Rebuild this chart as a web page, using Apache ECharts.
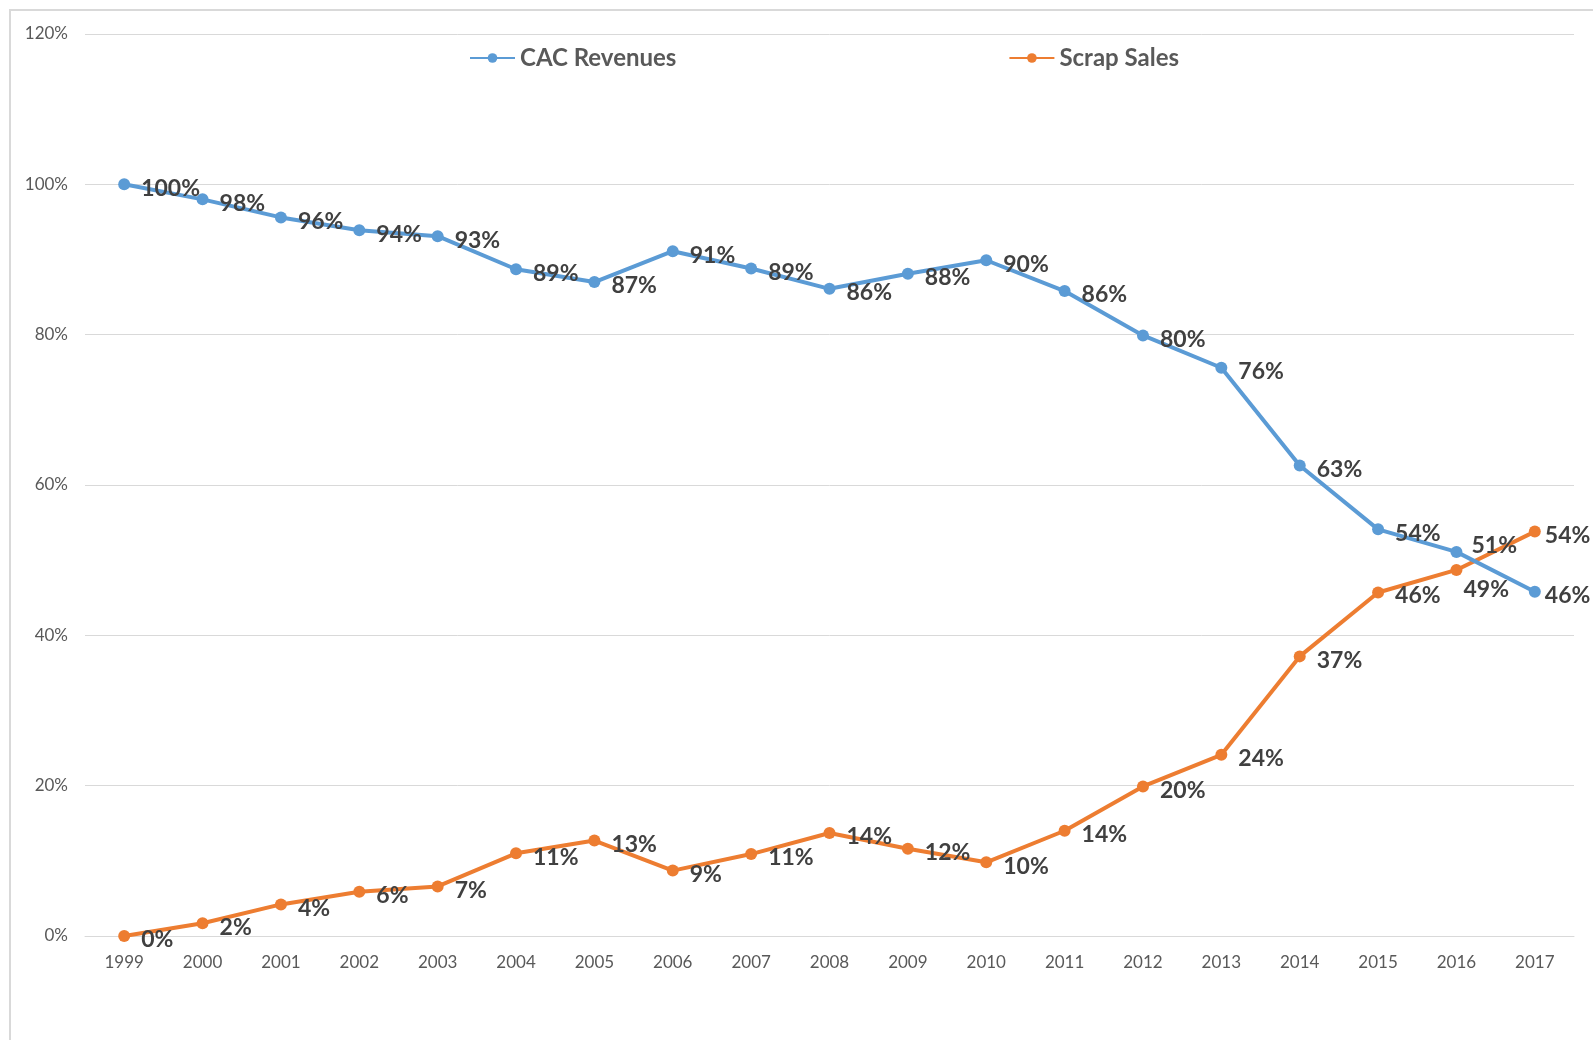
<!DOCTYPE html>
<html>
<head>
<meta charset="utf-8">
<script src="https://cdn.jsdelivr.net/npm/echarts@6/dist/echarts.min.js"></script>
<style>
html,body{margin:0;padding:0;background:#fff;}
#chart{width:1593px;height:1040px;}
</style>
</head>
<body>
<div id="chart"></div>
<script>
const years = ['1999','2000','2001','2002','2003','2004','2005','2006','2007','2008','2009','2010','2011','2012','2013','2014','2015','2016','2017'];
const cacRevenues = [100, 98.0, 95.6, 93.9, 93.1, 88.7, 87.0, 91.1, 88.8, 86.1, 88.1, 89.9, 85.8, 79.9, 75.6, 62.6, 54.1, 51.1, 45.8];
const scrapSales = [0, 1.7, 4.2, 5.9, 6.6, 11.0, 12.7, 8.7, 10.9, 13.7, 11.6, 9.8, 14.0, 19.9, 24.1, 37.2, 45.7, 48.7, 53.8];
const yTicks = [0, 20, 40, 60, 80, 100, 120];

const FONT = 'Lato, "Open Sans", sans-serif';
const chart = echarts.init(document.getElementById('chart'));

function buildData(values, overrides) {
  return values.map((v, i) => overrides[i] ? { value: v, label: overrides[i] } : v);
}

const labelStyle = {
  show: true,
  position: 'right',
  distance: 11,
  offset: [0, 4],
  color: '#404040',
  fontFamily: FONT,
  fontWeight: 'bold',
  fontSize: 23,
  formatter: p => Math.round(p.value) + '%'
};

chart.setOption({
  animation: false,
  backgroundColor: '#fff',
  graphic: [{
    type: 'rect',
    shape: { x: 10, y: 10, width: 1620, height: 1060 },
    style: { fill: 'none', stroke: '#d9d9d9', lineWidth: 2 },
    silent: true,
    z: -1
  }],
  legend: {
    top: 41,
    left: 464,
    itemWidth: 45,
    itemHeight: 12,
    itemGap: 332,
    textStyle: { color: '#595959', fontFamily: FONT, fontSize: 24, fontWeight: 'bold' },
    data: ['CAC Revenues', 'Scrap Sales']
  },
  grid: { left: 85, right: 19, top: 34, bottom: 104, containLabel: false },
  xAxis: {
    type: 'category',
    data: years,
    boundaryGap: true,
    axisLine: { lineStyle: { color: '#d9d9d9', width: 1 } },
    axisTick: { show: false },
    axisLabel: { color: '#595959', fontFamily: FONT, fontSize: 17, margin: 18 }
  },
  yAxis: {
    type: 'value',
    min: yTicks[0],
    max: yTicks[yTicks.length - 1],
    interval: 20,
    axisLine: { show: false },
    axisTick: { show: false },
    splitLine: { lineStyle: { color: '#d9d9d9', width: 1 } },
    axisLabel: { color: '#595959', fontFamily: FONT, fontSize: 17, margin: 17, formatter: v => v + '%' }
  },
  series: [
    {
      name: 'CAC Revenues',
      type: 'line',
      data: buildData(cacRevenues, { 17: { offset: [-2, -6] }, 18: { offset: [-7, 4] } }),
      symbol: 'circle',
      symbolSize: 12,
      lineStyle: { width: 4, color: '#5B9BD5' },
      itemStyle: { color: '#5B9BD5' },
      label: labelStyle,
      z: 3
    },
    {
      name: 'Scrap Sales',
      type: 'line',
      data: buildData(scrapSales, { 16: { offset: [0, 3] }, 17: { offset: [-10, 20] }, 18: { offset: [-7, 4] } }),
      symbol: 'circle',
      symbolSize: 12,
      lineStyle: { width: 4, color: '#ED7D31' },
      itemStyle: { color: '#ED7D31' },
      label: labelStyle,
      z: 2
    }
  ]
});
</script>
</body>
</html>
